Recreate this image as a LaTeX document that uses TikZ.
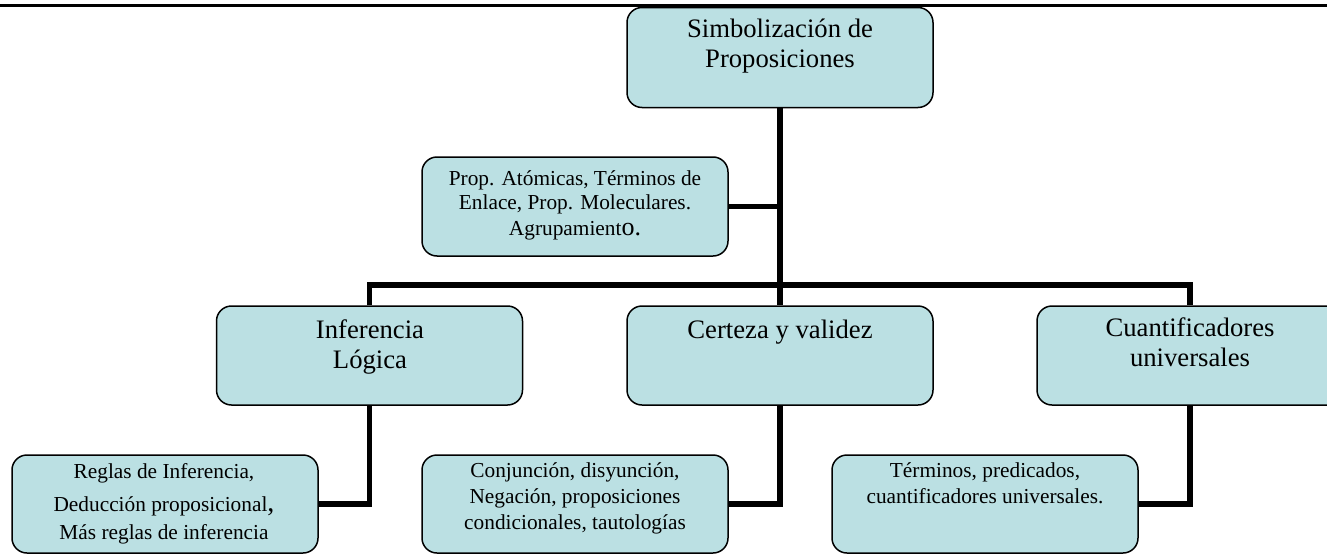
\documentclass[tikz,border=0pt]{standalone}
\usepackage{fontspec}
\setmainfont{Liberation Serif}
\definecolor{boxfill}{HTML}{BBE0E3}
\newcommand{\bigf}{\fontsize{26.67}{30.7}\selectfont}
\newcommand{\smallf}{\fontsize{21.33}{24.5}\selectfont}
\newcommand{\ctext}[1]{\begin{tabular}[t]{@{}c@{}}#1\end{tabular}}
\tikzset{
  box/.style={draw=black, line width=1.5pt, fill=boxfill, rounded corners=15pt, inner sep=0pt},
  bigbox/.style={box, minimum width=306pt, minimum height=99pt},
  link/.style={line width=5.5pt, line join=miter},
  lbl/.style={anchor=base, inner sep=0pt},
}
\begin{document}
\begin{tikzpicture}[x=1pt, y={(0pt,-1pt)}]
\useasboundingbox (0,0) rectangle (1327,554);
\clip (0,0) rectangle (1327,554);
% boxes
\node[bigbox, minimum height=100pt] (top) at (780,57.5) {};
\node[bigbox] (prop) at (575,206.5) {};
\node[bigbox] (inf) at (369.5,355.5) {};
\node[bigbox] (cer) at (780,355.5) {};
\node[bigbox] (cua) at (1190,355.5) {};
\node[bigbox, minimum height=98pt] (reg) at (165,504) {};
\node[bigbox, minimum height=98pt] (con) at (575,504) {};
\node[bigbox, minimum height=98pt] (ter) at (985,504) {};
% connectors
\coordinate (bar) at (780,285);
\draw[link] (top.south) -- (bar);
\draw[link] (prop.east) -- (prop.east -| top.south);
\draw[link] (inf.north) |- (bar) -| (cua.north);
\draw[link] (bar) -- (cer.north);
\draw[link] (inf.south) |- (reg.east);
\draw[link] (cer.south) |- (con.east);
\draw[link] (cua.south) |- (ter.east);
% top rule
\coordinate (rl) at (0,5.5);
\coordinate (rr) at (1327,5.5);
\draw[line width=3pt] (rl) -- (rr);
% texts
\node[lbl, font=\bigf] (ttop) at (780,37) {\ctext{Simbolización de\\Proposiciones}};
\node[lbl, font=\smallf] (tprop) at (575,185) {\ctext{Prop. Atómicas, Términos de\\Enlace, Prop. Moleculares.\\[1.5pt]Agrupamient{\fontsize{26}{28}\selectfont o.}}};
\node[lbl, font=\bigf] (tinf) at (370,338) {\ctext{Inferencia\\Lógica}};
\node[lbl, font=\bigf] (tcer) at (780,338) {\ctext{Certeza y validez}};
\node[lbl, font=\bigf] (tcua) at (1190,336) {\ctext{Cuantificadores\\universales}};
\node[lbl, font=\smallf] (treg) at (164,478) {\ctext{Reglas de Inferencia,\\[9pt]Deducción proposicional{\fontsize{28}{28}\selectfont ,}\\[3pt]Más reglas de inferencia}};
\node[lbl, font=\smallf] (tcon) at (575,477) {\ctext{Conjunción, disyunción,\\[1.5pt]Negación, proposiciones\\[1.5pt]condicionales, tautologías}};
\node[lbl, font=\smallf] (tter) at (985,477) {\ctext{Términos, predicados,\\[1.5pt]cuantificadores universales.}};
\end{tikzpicture}
\end{document}
